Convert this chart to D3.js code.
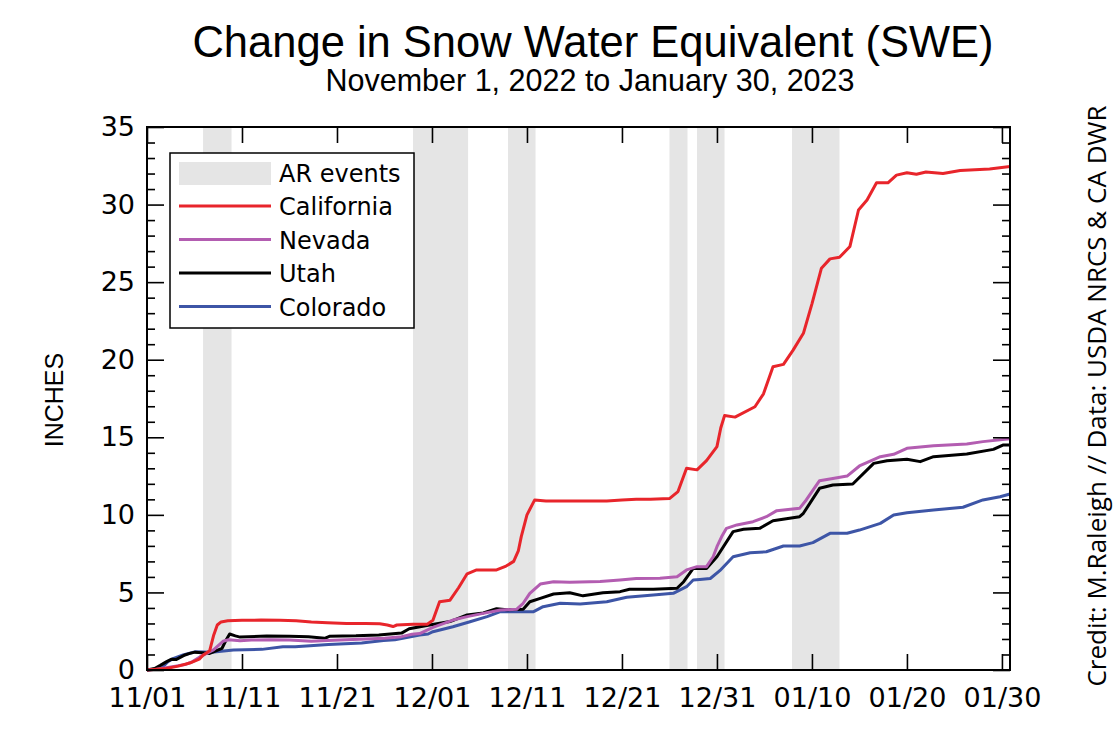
<!DOCTYPE html>
<html>
<head>
    <title>Change in Snow Water Equivalent (SWE)</title>
    <script src="https://d3js.org/d3.v7.min.js"></script>
    <style>
        body { margin: 0; background: #fff; }
        .tick text { font-family: "DejaVu Sans", sans-serif; font-size: 27px; fill: #000; }
        .tick line { stroke: #000; stroke-width: 1.6; }
        .legend text { font-family: "DejaVu Sans", sans-serif; font-size: 24px; fill: #000; }
    </style>
</head>
<body>
    <div id="chart"></div>
    <script>
        // days since 11/01/2022, SWE change in inches
        const california = [[0,0],[2,0.1],[3.3,0.25],[4.5,0.45],[5.5,0.7],[5.9,0.95],[6.6,1.25],[7.0,2.2],[7.4,2.9],[7.8,3.1],[8.5,3.17],
            [10,3.2],[12,3.22],[14,3.2],[15.7,3.18],[17.3,3.1],[19,3.05],[21,3.0],[23,3.0],[24.5,2.98],[25.3,2.9],[25.9,2.8],[26.3,2.9],
            [28,2.95],[29.5,2.95],[30.1,3.2],[30.8,4.4],[31.9,4.5],[32.8,5.3],[33.7,6.2],[34.7,6.45],[36.8,6.45],[37.8,6.7],[38.6,7.0],
            [39.1,7.7],[39.4,8.6],[40,10.0],[40.8,10.95],[42,10.9],[45,10.9],[48.4,10.9],[50,10.95],[51.5,11.0],[53,11.0],[55,11.05],
            [55.9,11.5],[56.8,13.0],[57.9,12.9],[58.9,13.5],[60,14.4],[60.4,15.6],[60.8,16.4],[61.9,16.3],[64,16.97],[64.9,17.8],
            [65.9,19.55],[67,19.7],[68,20.6],[69.1,21.7],[70,23.6],[71,25.9],[71.9,26.5],[72.9,26.6],[74,27.3],[74.9,29.65],[75.8,30.3],
            [76.8,31.4],[78,31.4],[78.9,31.9],[80,32.05],[81,31.95],[82,32.1],[83.8,32.0],[85.6,32.2],[88.7,32.3],[90.85,32.45]];
        const nevada = [[0,0],[1,0.05],[2,0.15],[3,0.25],[4,0.35],[4.8,0.54],[5.6,0.86],[7,1.3],[8.0,1.85],[8.6,1.95],[9.8,1.88],
            [11,1.93],[13,1.95],[15,1.93],[17.3,1.85],[19,1.9],[21,1.95],[23,2.0],[25,2.05],[26.8,2.15],[27.9,2.3],[28.7,2.35],
            [30.1,2.75],[32.2,3.22],[33.7,3.44],[35.4,3.65],[37.2,3.87],[38.9,3.91],[39.6,4.3],[40.3,4.94],[41.4,5.54],[42.8,5.69],
            [44.5,5.65],[47.7,5.7],[49.8,5.8],[51.5,5.9],[54,5.92],[55.8,6.01],[56.8,6.45],[57.9,6.66],[58.9,6.66],[59.6,7.3],
            [60,7.95],[60.5,8.6],[61,9.13],[62.1,9.35],[63.8,9.56],[65.2,9.88],[66.3,10.27],[68.7,10.42],[69.4,10.96],[70.8,12.2],
            [72.2,12.35],[73.7,12.5],[75,13.15],[77.2,13.75],[78.6,13.9],[80,14.29],[82.8,14.46],[86.3,14.57],[88,14.72],[90.85,14.9]];
        const utah = [[0,0],[0.8,0.1],[1.4,0.3],[2.07,0.54],[2.6,0.7],[3.1,0.68],[4.0,0.97],[4.5,1.07],[5.05,1.15],[6.1,1.1],
            [6.6,1.07],[7.9,1.4],[8.3,1.9],[8.7,2.32],[9.3,2.2],[9.8,2.12],[12.6,2.19],[15,2.17],[17,2.15],[18.7,2.04],[19.2,2.17],
            [22,2.2],[24.4,2.26],[26.8,2.38],[27.6,2.66],[29.6,2.88],[31.9,3.12],[33.7,3.55],[35.4,3.68],[36.8,3.95],[37.9,3.88],
            [39.6,3.91],[40.3,4.4],[41.4,4.62],[42.8,4.9],[44.5,4.98],[45.9,4.78],[48,4.98],[49.8,5.05],[50.8,5.2],[53.3,5.2],
            [55.8,5.27],[56.5,5.69],[57.5,6.55],[58.9,6.55],[60,7.3],[61.7,8.92],[62.8,9.07],[64.5,9.13],[65.9,9.62],[68.7,9.88],
            [69.1,10.1],[70.8,11.71],[72.2,11.92],[74.3,11.99],[76.5,13.32],[77.9,13.49],[80,13.58],[81.4,13.43],[82.8,13.75],
            [86.3,13.92],[89.1,14.22],[90.1,14.5],[90.85,14.5]];
        const colorado = [[0,0],[1.5,0.1],[2.2,0.54],[2.8,0.75],[3.3,0.86],[3.8,0.97],[5.1,1.18],[6.8,1.15],[9.1,1.29],[12.1,1.33],
            [14.3,1.5],[15.6,1.5],[19.1,1.65],[22.6,1.74],[24.9,1.9],[26.1,1.95],[28.7,2.26],[29.6,2.32],[30.1,2.47],[32.2,2.79],
            [34,3.11],[35.8,3.44],[37.2,3.76],[40.7,3.76],[41.7,4.08],[43.5,4.3],[45.6,4.26],[48.4,4.4],[50.5,4.69],[53.3,4.83],
            [55.4,4.94],[56.8,5.37],[57.5,5.8],[58.2,5.84],[59.3,5.9],[60.3,6.4],[61.7,7.3],[63.5,7.56],[65.2,7.62],[67,7.99],
            [68.7,7.99],[70.1,8.21],[71.9,8.81],[73.7,8.81],[75,9.02],[77.2,9.45],[78.6,9.99],[80,10.14],[82.8,10.31],[85.9,10.49],
            [88,10.96],[89.8,11.17],[90.85,11.34]];

        // atmospheric river event windows (days since 11/01)
        const arStart = [5.9, 28, 38, 55, 57.9, 67.9];
        const arEnd = [8.9, 33.8, 40.9, 56.9, 60.8, 72.9];

        const seriesNames = ["California", "Nevada", "Utah", "Colorado"];
        const seriesData = [california, nevada, utah, colorado];
        const seriesColors = ["#e8252b", "#b35db1", "#000000", "#3d55a6"];

        const xTicks = [0, 10, 20, 30, 40, 50, 60, 70, 80, 90];
        const yMajor = [0, 5, 10, 15, 20, 25, 30, 35];

        const width = 1120, height = 746;
        const margin = {top: 127, right: 110, bottom: 76, left: 147};
        const start = Date.UTC(2022, 10, 1);

        var x = d3.scaleLinear().domain([0, 90.85]).range([margin.left, width - margin.right]);
        var y = d3.scaleLinear().domain([0, 35]).range([height - margin.bottom, margin.top]);
        var fmt = d3.utcFormat("%m/%d");

        var svg = d3.select("#chart").append("svg")
            .attr("width", width)
            .attr("height", height);

        // AR event shading
        svg.selectAll(".ar")
            .data(arStart)
            .enter().append("rect")
            .attr("x", function(d) { return x(d); })
            .attr("y", y(35))
            .attr("width", function(d, i) { return x(arEnd[i]) - x(d); })
            .attr("height", y(0) - y(35))
            .attr("fill", "#e5e5e5");

        var line = d3.line()
            .x(function(d) { return x(d[0]); })
            .y(function(d) { return y(d[1]); });

        // draw Colorado first so California ends up on top
        for (var i = seriesData.length - 1; i >= 0; i--) {
            svg.append("path")
                .datum(seriesData[i])
                .attr("fill", "none")
                .attr("stroke", seriesColors[i])
                .attr("stroke-width", 3)
                .attr("stroke-linejoin", "round")
                .attr("d", line);
        }

        var yMinor = d3.range(0, 36).filter(function(v) { return v % 5 !== 0; });

        function clean(g) { g.select(".domain").remove(); }

        svg.append("g")
            .attr("transform", "translate(0," + y(0) + ")")
            .call(d3.axisBottom(x).tickValues(xTicks).tickSize(-16).tickPadding(18)
                .tickFormat(function(d) { return fmt(new Date(start + d * 864e5)); }))
            .call(clean);
        svg.append("g")
            .attr("transform", "translate(0," + y(35) + ")")
            .call(d3.axisTop(x).tickValues(xTicks).tickSize(-16).tickFormat(""))
            .call(clean);

        svg.append("g")
            .attr("transform", "translate(" + x(0) + ",0)")
            .call(d3.axisLeft(y).tickValues(yMajor).tickSize(-17).tickPadding(12))
            .call(clean);
        svg.append("g")
            .attr("transform", "translate(" + x(0) + ",0)")
            .call(d3.axisLeft(y).tickValues(yMinor).tickSize(-8).tickFormat(""))
            .call(clean);
        svg.append("g")
            .attr("transform", "translate(" + x(90.85) + ",0)")
            .call(d3.axisRight(y).tickValues(yMajor).tickSize(-17).tickFormat(""))
            .call(clean);
        svg.append("g")
            .attr("transform", "translate(" + x(90.85) + ",0)")
            .call(d3.axisRight(y).tickValues(yMinor).tickSize(-8).tickFormat(""))
            .call(clean);

        // frame
        svg.append("rect")
            .attr("x", x(0))
            .attr("y", y(35))
            .attr("width", x(90.85) - x(0))
            .attr("height", y(0) - y(35))
            .attr("fill", "none")
            .attr("stroke", "#000")
            .attr("stroke-width", 2);

        // legend
        var legend = svg.append("g").attr("class", "legend");
        legend.append("rect")
            .attr("x", 170).attr("y", 153)
            .attr("width", 244).attr("height", 175)
            .attr("fill", "#fff")
            .attr("stroke", "#000")
            .attr("stroke-width", 1.5);
        legend.append("rect")
            .attr("x", 179).attr("y", 162)
            .attr("width", 92).attr("height", 23)
            .attr("fill", "#e5e5e5");
        legend.append("text").attr("x", 279).attr("y", 182).text("AR events");

        seriesNames.forEach(function(name, i) {
            var cy = 206 + i * 33.5;
            legend.append("line")
                .attr("x1", 179).attr("x2", 271)
                .attr("y1", cy).attr("y2", cy)
                .attr("stroke", seriesColors[i])
                .attr("stroke-width", 3);
            legend.append("text")
                .attr("x", 279).attr("y", cy + 9)
                .text(name);
        });

        // titles
        svg.append("text")
            .attr("x", 593).attr("y", 57)
            .style("text-anchor", "middle")
            .style("font-family", "'Liberation Sans', Arial, sans-serif")
            .style("font-size", "43.5px")
            .text("Change in Snow Water Equivalent (SWE)");
        svg.append("text")
            .attr("x", 590).attr("y", 91)
            .style("text-anchor", "middle")
            .style("font-family", "'Liberation Sans', Arial, sans-serif")
            .style("font-size", "30.5px")
            .text("November 1, 2022 to January 30, 2023");

        svg.append("text")
            .attr("transform", "translate(63,400) rotate(-90)")
            .style("text-anchor", "middle")
            .style("font-family", "'Liberation Sans', Arial, sans-serif")
            .style("font-size", "25px")
            .text("INCHES");

        svg.append("text")
            .attr("transform", "translate(1106,396) rotate(-90)")
            .style("text-anchor", "middle")
            .style("font-family", "'Open Sans', sans-serif")
            .style("font-size", "26px")
            .text("Credit: M.Raleigh // Data: USDA NRCS & CA DWR");
    </script>
</body>
</html>
